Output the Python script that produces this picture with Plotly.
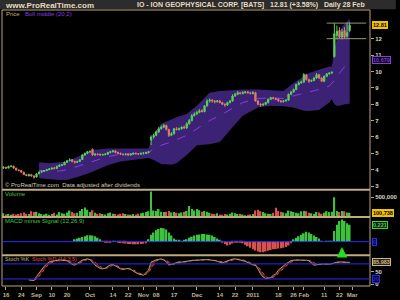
import pandas as pd
import plotly.graph_objects as go

# ---------------- calendar (trading days) ----------------
holidays = ["2010-09-06", "2010-11-25", "2010-12-24", "2011-01-17", "2011-02-21"]
calendar = [d.strftime("%Y-%m-%d") for d in pd.bdate_range("2010-08-13", "2011-03-01")
            if d.strftime("%Y-%m-%d") not in holidays]
pos = {d: i for i, d in enumerate(calendar)}
dates = calendar[:137]          # Aug 13 2010 .. Feb 28 2011

# ---------------- price data ----------------
open_ = [4.10, 4.15, 4.10, 4.20, 4.22, 4.10, 3.98, 3.95, 3.85, 3.70, 3.62, 3.70, 3.62,
         3.55, 3.75, 3.85, 3.90, 3.95, 4.00, 4.05, 4.12, 4.08, 4.20, 4.28, 4.30, 4.45, 4.55, 4.62, 4.50, 4.45, 4.50, 4.62, 4.90, 5.00,
         5.10, 5.25, 4.90, 4.95, 4.95, 4.90, 4.92, 4.95, 5.05, 5.10, 5.15, 5.05, 5.00, 4.95, 4.92, 4.95, 4.90, 4.95, 5.00, 4.98, 4.95,
         5.00, 5.00, 5.05, 5.80, 6.00, 6.10, 6.30, 6.50, 6.60, 6.70, 6.45, 6.10, 6.20, 6.50, 6.45, 6.50, 6.60, 6.55, 6.80, 7.00, 7.30,
         7.40, 7.50, 7.60, 7.55, 7.90, 8.20, 8.25, 8.20, 8.15, 8.20, 8.10, 8.00, 7.95, 8.10, 8.20, 8.50, 8.60, 8.70, 8.65, 8.70, 8.75, 8.70,
         8.65, 8.70, 8.20, 8.00, 7.95, 8.00, 8.10, 8.30, 8.40, 8.35, 8.30, 8.20, 8.15, 8.20, 8.25, 8.60, 8.75, 8.90, 9.20, 9.30,
         9.35, 9.80, 9.50, 9.40, 9.45, 9.60, 9.80, 9.60, 9.40, 9.70, 9.85, 9.90, 10.90, 12.20, 12.50, 12.10, 12.50, 12.15, 12.50]
high = [4.20, 4.18, 4.25, 4.28, 4.24, 4.12, 4.02, 3.98, 3.88, 3.75, 3.75, 3.72, 3.64,
        3.80, 3.90, 3.95, 3.98, 4.05, 4.10, 4.12, 4.15, 4.25, 4.32, 4.35, 4.50, 4.60, 4.70, 4.65, 4.55, 4.55, 4.65, 4.95, 5.05, 5.15,
        5.18, 5.30, 5.00, 5.00, 4.98, 4.98, 5.00, 5.10, 5.15, 5.20, 5.18, 5.10, 5.05, 5.00, 5.00, 5.00, 4.98, 5.05, 5.05, 5.02, 5.05,
        5.08, 5.10, 5.15, 6.10, 6.20, 6.40, 6.60, 6.70, 6.80, 6.75, 6.50, 6.30, 6.55, 6.60, 6.58, 6.65, 6.70, 6.90, 7.10, 7.40, 7.50,
        7.60, 7.70, 7.70, 7.95, 8.30, 8.35, 8.30, 8.25, 8.25, 8.25, 8.15, 8.05, 8.15, 8.25, 8.60, 8.70, 8.80, 8.75, 8.80, 8.80, 8.80, 8.75,
        8.80, 8.75, 8.25, 8.05, 8.05, 8.15, 8.35, 8.45, 8.45, 8.40, 8.35, 8.25, 8.25, 8.30, 8.65, 8.80, 8.95, 9.25, 9.40, 9.45,
        9.90, 9.85, 9.55, 9.50, 9.65, 9.90, 9.85, 9.65, 9.75, 9.90, 9.95, 10.00, 12.95, 12.80, 12.70, 12.60, 12.70, 12.95, 13.00]
low = [4.05, 4.05, 4.08, 4.15, 4.05, 3.95, 3.90, 3.82, 3.68, 3.60, 3.60, 3.58, 3.45,
       3.52, 3.72, 3.82, 3.86, 3.92, 3.98, 4.00, 4.02, 4.06, 4.18, 4.22, 4.28, 4.42, 4.52, 4.45, 4.38, 4.42, 4.48, 4.60, 4.85, 4.95,
       5.02, 4.85, 4.85, 4.88, 4.85, 4.86, 4.88, 4.92, 5.00, 5.05, 5.00, 4.95, 4.90, 4.88, 4.88, 4.85, 4.86, 4.92, 4.92, 4.90, 4.92,
       4.92, 4.95, 5.00, 5.50, 5.90, 6.05, 6.25, 6.45, 6.55, 6.40, 6.00, 6.05, 6.15, 6.40, 6.40, 6.45, 6.50, 6.50, 6.75, 6.95, 7.25,
       7.35, 7.45, 7.50, 7.50, 7.85, 8.10, 8.10, 8.05, 8.10, 8.05, 7.95, 7.85, 7.90, 8.05, 8.15, 8.45, 8.55, 8.60, 8.60, 8.65, 8.65, 8.60,
       8.60, 8.15, 7.95, 7.85, 7.90, 7.95, 8.05, 8.25, 8.30, 8.25, 8.15, 8.10, 8.10, 8.15, 8.20, 8.55, 8.70, 8.85, 9.15, 9.25,
       9.30, 9.45, 9.30, 9.35, 9.40, 9.55, 9.55, 9.35, 9.35, 9.65, 9.80, 9.85, 10.85, 11.95, 12.00, 11.95, 12.00, 12.05, 12.40]
close = [4.15, 4.10, 4.20, 4.22, 4.10, 3.98, 3.95, 3.85, 3.70, 3.65, 3.70, 3.62, 3.55,
         3.75, 3.85, 3.90, 3.95, 4.00, 4.05, 4.10, 4.08, 4.20, 4.28, 4.30, 4.45, 4.55, 4.60, 4.50, 4.45, 4.50, 4.60, 4.90, 5.00, 5.10,
         5.12, 4.90, 4.95, 4.92, 4.90, 4.92, 4.95, 5.05, 5.10, 5.15, 5.05, 5.00, 4.95, 4.92, 4.95, 4.90, 4.95, 5.00, 4.98, 4.95, 5.00,
         5.00, 5.05, 5.10, 6.00, 6.10, 6.30, 6.50, 6.60, 6.70, 6.45, 6.10, 6.20, 6.50, 6.45, 6.50, 6.60, 6.55, 6.80, 7.00, 7.30, 7.40,
         7.50, 7.60, 7.55, 7.90, 8.20, 8.25, 8.20, 8.15, 8.20, 8.10, 8.00, 7.95, 8.10, 8.20, 8.50, 8.60, 8.70, 8.65, 8.70, 8.75, 8.70, 8.65,
         8.70, 8.20, 8.00, 7.95, 8.00, 8.10, 8.30, 8.40, 8.35, 8.30, 8.20, 8.15, 8.20, 8.25, 8.60, 8.75, 8.90, 9.20, 9.30, 9.35,
         9.80, 9.50, 9.40, 9.45, 9.60, 9.80, 9.60, 9.40, 9.70, 9.85, 9.90, 9.95, 12.30, 12.45, 12.10, 12.40, 12.10, 12.37, 12.81]

# Bollinger (20,2) read at sample dates
bb_dates = ["2010-09-02", "2010-09-09", "2010-09-15", "2010-09-20", "2010-09-27", "2010-10-04", "2010-10-12",
            "2010-10-19", "2010-10-26", "2010-11-03", "2010-11-05", "2010-11-10", "2010-11-16", "2010-11-18",
            "2010-11-24", "2010-12-01", "2010-12-08", "2010-12-14", "2010-12-21", "2010-12-28", "2011-01-05",
            "2011-01-12", "2011-01-20", "2011-01-26", "2011-02-01", "2011-02-03", "2011-02-09", "2011-02-15",
            "2011-02-16", "2011-02-17", "2011-02-18", "2011-02-22", "2011-02-23", "2011-02-24", "2011-02-25", "2011-02-28"]
bb_upper = [4.45, 4.40, 4.45, 4.50, 4.85, 5.20, 5.30, 5.32, 5.30, 5.30, 6.20, 6.80, 7.10, 7.20, 7.40, 7.90, 8.70, 8.80,
            8.85, 8.90, 8.90, 8.85, 8.80, 9.30, 9.70, 9.90, 10.10, 10.30, 10.30, 11.30, 12.00, 12.40, 12.70, 12.90, 13.05, 13.20]
bb_middle = [3.95, 3.92, 3.92, 4.00, 4.25, 4.50, 4.80, 4.95, 4.98, 5.02, 5.30, 5.50, 5.70, 5.85, 6.10, 6.50, 7.00, 7.30,
             7.75, 8.10, 8.35, 8.38, 8.35, 8.50, 8.65, 8.75, 8.90, 9.10, 9.25, 9.45, 9.70, 9.90, 10.10, 10.30, 10.50, 10.679]
bb_lower = [3.48, 3.42, 3.38, 3.38, 3.60, 3.88, 4.28, 4.50, 4.62, 4.72, 4.60, 4.35, 4.30, 4.40, 4.90, 5.50, 5.55, 5.70,
            6.60, 7.30, 7.80, 7.90, 7.88, 7.80, 7.60, 7.58, 7.65, 8.10, 8.30, 8.00, 7.90, 7.90, 7.95, 8.00, 8.00, 8.05]

# horizontal levels drawn on the price panel
level_start = "2011-02-14"
levels = [12.95, 12.0]

# ---------------- volume ----------------
volume_k = [90, 60, 70, 50, 80, 60, 70, 90, 110, 80, 70, 140, 120,
            130, 90, 70, 60, 80, 50, 70, 100, 60, 120, 90, 80, 110, 160, 120, 90, 100, 150, 200, 240, 180,
            120, 170, 100, 80, 90, 70, 60, 90, 110, 80, 70, 60, 80, 90, 70, 60, 50, 70, 60, 80, 90,
            100, 120, 140, 650, 160, 150, 200, 130, 120, 130, 150, 110, 120, 100, 90, 110, 130, 150, 280, 200, 160,
            200, 170, 130, 150, 130, 100, 80, 70, 90, 60, 50, 70, 60, 80, 110, 90, 70, 80, 60, 40, 50, 60,
            70, 160, 180, 140, 120, 90, 80, 70, 100, 230, 150, 130, 110, 90, 160, 140, 120, 100, 90, 140,
            150, 140, 100, 90, 70, 120, 110, 80, 100, 140, 120, 130, 500, 150, 120, 150, 140, 110, 100.738]

# ---------------- MACD minus signal (12,26,9) ----------------
macd_hist = [None] * 28 + [
    0.03, 0.04, 0.05, 0.06, 0.07, 0.085, 0.085, 0.08, 0.07, 0.05, 0.03, 0.01,
    -0.01, -0.013, -0.01, 0.005, 0.003,
    -0.012, -0.018, -0.022, -0.025, -0.03, -0.032, -0.035, -0.035, -0.033, -0.03, -0.028, -0.02,
    0.03, 0.09, 0.12, 0.15, 0.165, 0.18, 0.175, 0.16, 0.12, 0.08,
    0.04, 0.02, 0.015, 0.01, 0.015, 0.03,
    0.05, 0.065, 0.08, 0.09, 0.095, 0.10, 0.10, 0.095, 0.09, 0.08, 0.06, 0.04, 0.02,
    -0.015, -0.03, -0.05, -0.04, -0.025, -0.01, -0.005, -0.01,
    -0.02, -0.04, -0.06, -0.08, -0.10, -0.115, -0.13, -0.14, -0.14, -0.13, -0.12, -0.11, -0.10, -0.095, -0.09,
    -0.085, -0.08, -0.07, -0.05, -0.02,
    0.03, 0.05, 0.07, 0.09, 0.11, 0.13, 0.12, 0.10, 0.08, 0.06, 0.04,
    0.005, 0.0, 0.01, 0.012, 0.005,
    0.14, 0.22, 0.27, 0.29, 0.27, 0.24, 0.221]
buy_signal_dates = ["2011-02-23"]

# ---------------- Stochastic (14,3,5) ----------------
stoch_k = [None] * 10 + [
    16, 15, 14, 30, 45, 60, 70, 80, 88, 90,
    92, 95, 96, 95, 94, 92, 85, 78, 75, 82, 90, 95, 98, 100,
    97, 85, 75, 68, 62, 60, 63, 70, 76, 78, 72,
    65, 60, 58, 60, 62, 58, 50, 45, 40, 36, 35, 45,
    55, 87, 92, 96, 98, 100, 95, 88, 75, 78,
    82, 86, 88, 87, 88, 90, 92, 94, 95,
    96, 96, 95, 96, 97, 96, 95, 93, 90, 86, 84, 88, 92, 96, 99,
    100, 98, 96, 93, 90, 85, 80, 76, 74, 60, 40, 28,
    21, 22, 25, 35, 40, 55, 65, 72, 80, 88, 93,
    95, 96, 96, 95, 94, 95, 92, 85, 75, 76, 79,
    80, 79, 78, 79, 80, 85, 87, 88, 87, 86, 85, 85.983]
stoch_d = [None] * 12 + [
    15, 20, 30, 45, 58, 70, 79, 86,
    90, 92, 94, 95, 95, 94, 90, 85, 79, 78, 82, 89, 94, 97,
    98, 94, 86, 76, 68, 63, 62, 64, 70, 75, 75,
    72, 66, 61, 59, 60, 60, 57, 51, 45, 40, 37, 39,
    45, 62, 78, 92, 95, 98, 98, 94, 86, 80,
    78, 82, 85, 87, 87, 88, 90, 92, 94,
    95, 96, 96, 96, 96, 96, 96, 95, 93, 90, 87, 86, 88, 92, 96,
    98, 99, 98, 96, 93, 90, 85, 80, 77, 70, 58, 43,
    30, 24, 23, 27, 33, 43, 53, 64, 72, 80, 87,
    92, 95, 96, 96, 95, 95, 94, 91, 84, 79, 77,
    78, 79, 79, 79, 79, 81, 84, 86, 87, 87, 86, 85.5]
stoch_levels = [80, 20]

# ---------------- x-axis labels ----------------
tick_dates = ["2010-08-16", "2010-08-24", "2010-09-01", "2010-09-10", "2010-09-20", "2010-10-01", "2010-10-14",
              "2010-10-22", "2010-11-01", "2010-11-08", "2010-11-17", "2010-12-01", "2010-12-14", "2010-12-22",
              "2011-01-03", "2011-01-18", "2011-01-26", "2011-02-01", "2011-02-11", "2011-02-22", "2011-03-01"]
tick_labels = ["16", "24", "Sep", "10", "20", "Oct", "14", "22", "Nov", "08", "17", "Dec", "14", "22",
               "2011", "18", "26", "Feb", "11", "22", "Mar"]

for arr in (open_, high, low, close, volume_k, macd_hist, stoch_k, stoch_d):
    assert len(arr) == len(dates), len(arr)

# ---------------- styling ----------------
TAN = "#b8a47c"
TXT = "#ddd5c5"
CUP = "#5ad25a"
CDN = "#e27a68"
VUP = "#3cc23c"
VDN = "#d85050"
BLUE = "#2a2aff"
PURPLE = "#8a3ce0"
FONT = "Liberation Sans"
PRICE_RANGE = [2.79, 13.75]

x = [pos[d] for d in dates]
bx = [pos[d] for d in bb_dates]
up_day = [c >= o for o, c in zip(open_, close)]

fig = go.Figure()

# Bollinger band (base price axis)
fig.add_trace(go.Scatter(x=bx, y=bb_upper, mode="lines", line=dict(width=0, color="#3b2274"),
                         yaxis="y", hoverinfo="skip", showlegend=False))
fig.add_trace(go.Scatter(x=bx, y=bb_lower, mode="lines", line=dict(width=0, color="#3b2274"),
                         fill="tonexty", fillcolor="#3b2274", yaxis="y", showlegend=False))
fig.add_trace(go.Scatter(x=bx, y=bb_middle, mode="lines", line=dict(width=1, color=PURPLE, dash="dash"),
                         yaxis="y", showlegend=False))

# candles on an overlaying price axis so they sit above the band
fig.add_trace(go.Candlestick(x=x, open=open_, high=high, low=low, close=close, yaxis="y5",
                             increasing=dict(line=dict(color=CUP, width=1), fillcolor=CUP),
                             decreasing=dict(line=dict(color=CDN, width=1), fillcolor=CDN),
                             whiskerwidth=0, showlegend=False))

# volume
fig.add_trace(go.Bar(x=x, y=[v * 1000 for v in volume_k], yaxis="y2",
                     marker=dict(color=[VUP if u else VDN for u in up_day], line=dict(width=0)),
                     width=0.6, showlegend=False))

# MACD histogram
fig.add_trace(go.Bar(x=x, y=macd_hist, yaxis="y3",
                     marker=dict(color=[VUP if (v is not None and v >= 0) else VDN for v in macd_hist],
                                 line=dict(width=0)),
                     width=0.7, showlegend=False))

# Stochastic
fig.add_trace(go.Scatter(x=x, y=stoch_d, mode="lines", line=dict(width=1, color="#e04848", dash="dot"),
                         yaxis="y4", showlegend=False))
fig.add_trace(go.Scatter(x=x, y=stoch_k, mode="lines", line=dict(width=1, color="#b0a068"),
                         fill="tonexty", fillcolor="rgba(120,35,35,0.85)", yaxis="y4", showlegend=False))

# ---------------- layout ----------------
H = 279.0
def py(pix):  # paper y from pixel row
    return (289 - pix) / H
def px(pix):  # paper x from pixel column
    return (pix - 2) / 373.0

dom_main = [py(191.5), 1]
dom_vol = [py(219), py(192.5)]
dom_macd = [py(258), py(220)]
dom_sto = [0, py(258.5)]

yax = dict(side="right", anchor="x", showgrid=False, zeroline=False, ticks="outside", ticklen=3,
           tickcolor=TAN, tickfont=dict(size=6, color=TXT, family=FONT, weight="bold"), fixedrange=True)

fig.update_layout(
    width=400, height=300,
    margin=dict(l=2, r=25, t=10, b=11),
    paper_bgcolor="black", plot_bgcolor="black",
    barmode="overlay",
    showlegend=False,
    xaxis=dict(anchor="y4", range=[-0.56, 144.0], showgrid=False, zeroline=False,
               rangeslider=dict(visible=False), tickmode="array", tickangle=0,
               tickvals=[pos[d] for d in tick_dates], ticktext=tick_labels,
               ticks="outside", ticklen=3, tickcolor=TAN,
               tickfont=dict(size=6, color="#c8b488", family=FONT, weight="bold")),
    yaxis=dict(domain=dom_main, range=PRICE_RANGE, tickmode="array",
               tickvals=[3, 4, 5, 6, 7, 8, 9, 10, 11, 12], **yax),
    yaxis5=dict(overlaying="y", anchor="x", side="right", range=PRICE_RANGE, visible=False,
                showgrid=False, zeroline=False, fixedrange=True),
    yaxis2=dict(domain=dom_vol, range=[0, 675000], tickmode="array", tickvals=[500000],
                ticktext=["500,000"], **yax),
    yaxis3=dict(domain=dom_macd, range=[-0.179, 0.313], tickmode="array", tickvals=[], **yax),
    yaxis4=dict(domain=dom_sto, range=[-7.9, 112], tickmode="array", tickvals=[0, 50], **yax),
)

shapes = []
# header band
shapes.append(dict(type="rect", xref="paper", yref="paper", x0=-0.01, x1=1.07, y0=1.003, y1=1.04,
                   fillcolor="#2c2c2c", line=dict(width=0), layer="below"))
# frame
shapes.append(dict(type="rect", xref="paper", yref="paper", x0=0, x1=1, y0=0, y1=1,
                   line=dict(color=TAN, width=1)))
# panel separators
for yy in (191.7, 219.3, 257.8):
    shapes.append(dict(type="line", xref="paper", yref="paper", x0=0, x1=1, y0=py(yy), y1=py(yy),
                       line=dict(color="#c0aa80", width=2)))
# MACD zero line and stochastic levels
shapes.append(dict(type="line", xref="paper", yref="y3", x0=0, x1=1, y0=0, y1=0, line=dict(color=BLUE, width=1)))
for lv in stoch_levels:
    shapes.append(dict(type="line", xref="paper", yref="y4", x0=0, x1=1, y0=lv, y1=lv,
                       line=dict(color=BLUE, width=1)))
# horizontal levels on price
for lv in levels:
    shapes.append(dict(type="line", xref="x", yref="y", x0=pos[level_start], x1=pos[level_start] + 15.5,
                       y0=lv, y1=lv, line=dict(color="#9c9464", width=1)))
fig.update_layout(shapes=shapes)

ann = []
def label(xp, yp, text, color, size=6):
    ann.append(dict(xref="paper", yref="paper", x=px(xp), y=py(yp), text=text, showarrow=False,
                    xanchor="left", yanchor="middle", font=dict(size=size, color=color, family=FONT)))

# header texts
label(3, 5, "<b>www.ProRealTime.com</b>", "#e8dcc0", 8)
label(137, 5, "<b>IO - ION GEOPHYSICAL CORP. [BATS]   12.81 (+3.58%)   Daily 28 Feb</b>", "#e8dcc0", 7)
# panel titles
label(4, 14, "Price", "#c8b070")
label(23, 14, "Boll middle (20,2)", PURPLE)
label(3, 187, "© ProRealTime.com  Data adjusted after dividends", "#d8ccb0")
label(3, 196, "Volume", "#40c840")
label(3, 223, "MACD minus Signal (12,26,9)", "#40c840")
label(3, 262, "Stoch %K", "#c0b078", 5.5)
label(30, 262, "Stoch %D (14,3,5)", "#e04848", 5.5)

def box(yref, yv, text, fg, bg, border):
    ann.append(dict(xref="paper", yref=yref, x=px(377), y=yv, text="<b>" + text + "</b>", showarrow=False,
                    xanchor="left", yanchor="middle", bgcolor=bg, bordercolor=border, borderwidth=1, borderpad=0,
                    font=dict(size=5.5, color=fg, family=FONT)))

box("y", close[-1], "12.81", "black", "#f2c200", "#f2c200")
box("y", bb_middle[-1], "10.679", PURPLE, "black", PURPLE)
box("y2", volume_k[-1] * 1000, "100,738", "black", "#f2c200", "#f2c200")
box("y3", macd_hist[-1], "0.221", "#40d040", "#0c200c", "#40d040")
box("y3", 0, "0", BLUE, "black", BLUE)
box("y4", stoch_k[-1], "85.983", "#c8b488", "#2a2418", "#c8b488")
box("y4", 20, "20", BLUE, "black", BLUE)

# buy signal arrow
for d in buy_signal_dates:
    ann.append(dict(xref="x", yref="y3", x=pos[d], y=-0.07, ax=0, ay=9, showarrow=True,
                    arrowhead=2, arrowsize=0.7, arrowwidth=3, arrowcolor="#20e020", text=""))

fig.update_layout(annotations=ann)
fig.write_html("out.html")
